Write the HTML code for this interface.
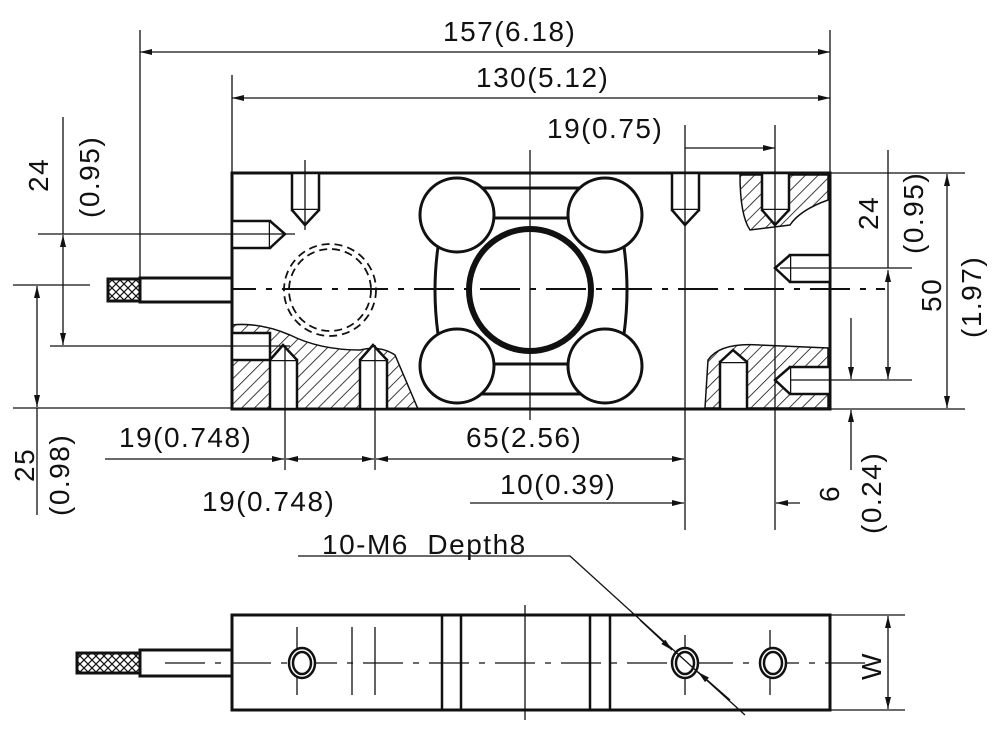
<!DOCTYPE html>
<html><head><meta charset="utf-8"><style>
html,body{margin:0;padding:0;background:#fff}
svg{display:block}
text{font-family:"Liberation Sans",sans-serif;font-size:28px;letter-spacing:1.5px;fill:#111}
</style></head><body>
<svg width="1000" height="738" viewBox="0 0 1000 738" xmlns="http://www.w3.org/2000/svg">
<defs>
<pattern id="h" width="9" height="9" patternUnits="userSpaceOnUse" patternTransform="rotate(45)">
<rect width="9" height="9" fill="#fff"/><line x1="0" y1="0" x2="0" y2="9" stroke="#111" stroke-width="1.6"/>
</pattern>
<pattern id="x" width="8" height="8" patternUnits="userSpaceOnUse">
<rect width="8" height="8" fill="#fff"/><path d="M0 0L8 8M8 0L0 8" stroke="#111" stroke-width="1.2"/>
</pattern>
<marker id="a" viewBox="0 0 12 6" refX="12" refY="3" markerWidth="12" markerHeight="6" orient="auto-start-reverse" markerUnits="userSpaceOnUse"><path d="M0 0L12 3L0 6z" fill="#111"/></marker>
</defs>
<g stroke="#111" fill="none">
<path d="M232 325 Q260 322 290 335 Q320 350 360 350 Q380 345 395 355 L418 409 L232 409Z" fill="url(#h)" stroke-width="1.5"/>
<path d="M740 175 L828 175 L828 200 Q800 210 790 225 L750 230 Q740 215 740 175Z" fill="url(#h)" stroke-width="1.5"/>
<path d="M705 408 L708 360 Q720 342 760 345 L828 348 L828 408Z" fill="url(#h)" stroke-width="1.5"/>
<rect x="232" y="173" width="598" height="236" stroke-width="3"/>
<g stroke-width="2.5" fill="#fff">
<rect x="292" y="173" width="27" height="37"/><path d="M292 210 L305 225 L319 210"/>
<rect x="672" y="173" width="27" height="37"/><path d="M672 210 L685 225 L699 210"/>
<rect x="762" y="173" width="27" height="37"/><path d="M762 210 L775 225 L789 210"/>
<rect x="232" y="221" width="38" height="27"/><path d="M270 221 L285 234 L270 248"/>
<rect x="232" y="333" width="38" height="27"/>
<rect x="270" y="360" width="27" height="49"/><path d="M270 360 L283 345 L297 360"/>
<rect x="360" y="360" width="27" height="49"/><path d="M360 360 L373 345 L387 360"/>
<rect x="720" y="362" width="27" height="47"/><path d="M720 362 L733 350 L747 362"/>
<rect x="790" y="255" width="40" height="27"/><path d="M790 255 L775 268 L790 282"/>
<rect x="790" y="367" width="40" height="27"/><path d="M790 367 L775 380 L790 394"/>
</g>
<g stroke-width="3">
<path d="M478 188 L584 188 M478 394 L584 394"/>
<path d="M438 247 Q432 290 438 334 M624 247 Q630 290 624 334"/>
<path d="M490 218 L572 218 M490 364 L572 364"/>
<circle cx="457" cy="215" r="37" fill="#fff"/><circle cx="605" cy="215" r="37" fill="#fff"/>
<circle cx="457" cy="366" r="37" fill="#fff"/><circle cx="605" cy="366" r="37" fill="#fff"/>
<circle cx="530" cy="290" r="61" stroke-width="6"/>
</g>
<circle cx="330" cy="290" r="46" stroke-width="1.8" stroke-dasharray="8 5"/>
<circle cx="330" cy="290" r="41" stroke-width="1.8" stroke-dasharray="8 5"/>
<path d="M150 289 L885 289" stroke-width="2" stroke-dasharray="40 10 6 10"/>
<path d="M530 150 L530 420 M305 160 L305 230 M685 125 L685 530 M775 125 L775 530 M285 345 L285 470 M375 345 L375 470" stroke-width="1.3"/>
<rect x="140" y="278" width="92" height="24" stroke-width="3" fill="#fff"/>
<rect x="108" y="279" width="32" height="22" stroke-width="3" fill="url(#x)"/>
<g stroke-width="1.3">
<path d="M140 30 L140 290 M830 30 L830 173 M232 75 L232 173"/>
<line x1="140" y1="52" x2="830" y2="52" marker-start="url(#a)" marker-end="url(#a)"/>
<line x1="232" y1="98" x2="830" y2="98" marker-start="url(#a)" marker-end="url(#a)"/>
<line x1="685" y1="148" x2="775" y2="148" marker-end="url(#a)"/>
<path d="M38 234 L295 234 M13 285 L90 285 M50 346 L290 346 M13 408 L232 408"/>
<line x1="63" y1="117" x2="63" y2="234" />
<line x1="63" y1="290" x2="63" y2="235" marker-end="url(#a)"/>
<line x1="63" y1="290" x2="63" y2="345" marker-end="url(#a)"/>
<line x1="37" y1="350" x2="37" y2="286" marker-end="url(#a)"/>
<line x1="37" y1="350" x2="37" y2="407" marker-end="url(#a)"/>
<line x1="37" y1="408" x2="37" y2="515"/>
<path d="M830 173 L965 173 M830 409 L965 409 M780 268 L912 268 M790 380 L912 380"/>
<line x1="888" y1="150" x2="888" y2="268"/>
<line x1="888" y1="320" x2="888" y2="270" marker-end="url(#a)"/>
<line x1="888" y1="320" x2="888" y2="379" marker-end="url(#a)"/>
<line x1="947" y1="290" x2="947" y2="174" marker-end="url(#a)"/>
<line x1="947" y1="290" x2="947" y2="408" marker-end="url(#a)"/>
<line x1="851" y1="318" x2="851" y2="379" marker-end="url(#a)"/>
<line x1="851" y1="470" x2="851" y2="410" marker-end="url(#a)"/>
<line x1="105" y1="459" x2="284" y2="459" marker-end="url(#a)"/>
<line x1="330" y1="459" x2="286" y2="459" marker-end="url(#a)"/>
<line x1="330" y1="459" x2="374" y2="459" marker-end="url(#a)"/>
<line x1="530" y1="459" x2="376" y2="459" marker-end="url(#a)"/>
<line x1="530" y1="459" x2="684" y2="459" marker-end="url(#a)"/>
<line x1="470" y1="503" x2="684" y2="503" marker-end="url(#a)"/>
<line x1="800" y1="503" x2="776" y2="503" marker-end="url(#a)"/>
</g>
<rect x="232" y="615" width="598" height="95" stroke-width="3"/>
<path d="M442 615 L442 710 M461 615 L461 710 M590 615 L590 710 M610 615 L610 710" stroke-width="2.5"/>
<rect x="140" y="650" width="92" height="26" stroke-width="3" fill="#fff"/>
<rect x="77" y="653" width="63" height="20" stroke-width="3" fill="url(#x)"/>
<path d="M165 663 L870 663" stroke-width="1.3" stroke-dasharray="40 10 6 10"/>
<path d="M297 627 L297 695 M352 627 L352 695 M375 627 L375 695 M525 605 L525 720 M685 635 L685 695 M770 630 L770 695" stroke-width="1.3"/>
<g stroke-width="2.5" fill="#fff">
<ellipse cx="302" cy="663" rx="13" ry="15"/><ellipse cx="302" cy="663" rx="9" ry="11"/>
<ellipse cx="685" cy="663" rx="13" ry="15"/><ellipse cx="685" cy="663" rx="9" ry="11"/>
<ellipse cx="773" cy="663" rx="13" ry="15"/><ellipse cx="773" cy="663" rx="9" ry="11"/>
</g>
<path d="M830 615 L905 615 M830 710 L905 710" stroke-width="1.3"/>
<line x1="888" y1="663" x2="888" y2="616" stroke-width="1.3" marker-end="url(#a)"/>
<line x1="888" y1="663" x2="888" y2="709" stroke-width="1.3" marker-end="url(#a)"/>
<path d="M298 556 L570 556 L745 715" stroke-width="1.3"/>
<line x1="640" y1="620" x2="672" y2="650" stroke-width="1.3" marker-end="url(#a)"/>
<line x1="730" y1="700" x2="698" y2="672" stroke-width="1.3" marker-end="url(#a)"/>
</g>
<text x="443" y="41">157(6.18)</text>
<text x="476" y="87">130(5.12)</text>
<text x="547" y="138">19(0.75)</text>
<text x="119" y="447">19(0.748)</text>
<text x="466" y="447">65(2.56)</text>
<text x="202" y="511">19(0.748)</text>
<text x="500" y="494">10(0.39)</text>
<text x="322" y="554">10-M6&#160;&#160;Depth8</text>
<text transform="translate(48,192) rotate(-90)">24</text>
<text transform="translate(99,218) rotate(-90)">(0.95)</text>
<text transform="translate(34,482) rotate(-90)">25</text>
<text transform="translate(69,516) rotate(-90)">(0.98)</text>
<text transform="translate(878,230) rotate(-90)">24</text>
<text transform="translate(923,254) rotate(-90)">(0.95)</text>
<text transform="translate(941,312) rotate(-90)">50</text>
<text transform="translate(981,338) rotate(-90)">(1.97)</text>
<text transform="translate(839,502) rotate(-90)">6</text>
<text transform="translate(881,534) rotate(-90)">(0.24)</text>
<text transform="translate(881,680) rotate(-90)">W</text>
</svg>
</body></html>
